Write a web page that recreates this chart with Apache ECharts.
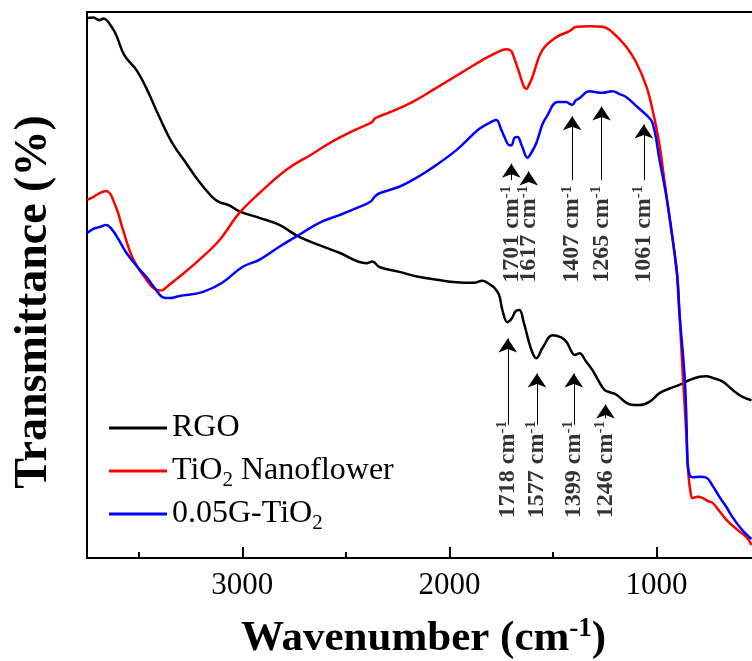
<!DOCTYPE html>
<html>
<head>
<meta charset="utf-8">
<script src="https://cdn.jsdelivr.net/npm/echarts@6/dist/echarts.min.js"></script>
<style>
  html, body { margin: 0; padding: 0; background: #fff; }
  #chart { width: 752px; height: 661px; }
</style>
</head>
<body>
<div id="chart"></div>
<script>
// FTIR spectra, [wavenumber (cm-1), transmittance (a.u.)]
const rgo = [
  [3749, 98.9], [3720, 99.0], [3691, 98.5], [3670, 98.8], [3652, 98.4], [3630, 97.2], [3609, 95.8],
  [3570, 92.1], [3512, 89.4], [3464, 86.1], [3401, 80.8], [3338, 76.0], [3271, 72.3], [3208, 68.9],
  [3145, 66.1], [3111, 65.2], [3063, 64.6], [3014, 63.5], [2918, 62.3], [2821, 61.0], [2725, 58.8],
  [2628, 57.3], [2531, 55.9], [2401, 54.0], [2372, 54.3], [2338, 53.3], [2242, 52.4], [2150, 51.5],
  [2050, 50.9], [1966, 50.5], [1880, 50.4], [1841, 50.8], [1800, 50.0], [1783, 49.5], [1760, 48.2],
  [1744, 45.4], [1720, 43.2], [1700, 43.8], [1680, 45.2], [1662, 45.4], [1640, 43.0], [1604, 38.1],
  [1580, 36.6], [1550, 38.5], [1502, 40.8], [1460, 40.4], [1435, 39.6], [1410, 37.8], [1396, 37.2],
  [1372, 37.5], [1340, 36.0], [1309, 34.4], [1280, 32.5], [1251, 30.8], [1220, 30.3], [1193, 29.9],
  [1145, 28.4], [1110, 28.0], [1082, 28.0], [1034, 28.6], [985, 30.2], [940, 31.0], [889, 31.7],
  [840, 32.6], [792, 33.2], [760, 33.3], [729, 33.0], [680, 32.3], [633, 30.8], [584, 29.5], [541, 28.9]
];
const tio2 = [
  [3749, 65.6], [3720, 66.1], [3691, 66.8], [3657, 67.2], [3640, 66.8], [3628, 66.0], [3600, 63.2],
  [3580, 60.6], [3531, 55.1], [3464, 51.0], [3415, 49.1], [3390, 49.0], [3367, 49.6], [3304, 51.5],
  [3208, 54.6], [3111, 58.2], [3014, 63.2], [2918, 66.8], [2787, 71.1], [2662, 74.0], [2560, 76.4],
  [2460, 78.3], [2390, 79.5], [2372, 79.9], [2360, 80.5], [2338, 80.9], [2290, 81.6], [2179, 83.5],
  [2063, 86.1], [1937, 89.0], [1841, 91.2], [1760, 92.8], [1725, 93.2], [1706, 93.0], [1696, 92.5],
  [1662, 88.8], [1640, 86.3], [1628, 85.9], [1615, 86.7], [1599, 88.1], [1551, 93.0], [1483, 95.4],
  [1420, 96.5], [1386, 97.3], [1324, 97.4], [1261, 97.3], [1213, 96.3], [1145, 93.6], [1097, 90.7],
  [1048, 86.3], [1019, 82.1], [985, 75.6], [962, 69.2], [928, 60.0], [900, 52.0], [889, 44.9],
  [874, 34.4], [855, 22.2], [845, 15.0], [835, 12.0], [826, 11.0], [800, 11.2], [778, 11.0],
  [750, 10.4], [729, 10.1], [700, 8.8], [662, 7.0], [610, 5.2], [565, 3.8], [541, 2.4]
];
const g005 = [
  [3749, 59.5], [3720, 60.3], [3691, 60.6], [3657, 61.0], [3628, 60.1], [3600, 58.5], [3560, 55.9],
  [3500, 53.0], [3464, 51.5], [3420, 49.3], [3386, 47.8], [3350, 47.6], [3304, 48.0], [3193, 48.7],
  [3097, 50.4], [3000, 53.3], [2918, 54.6], [2821, 57.0], [2725, 59.2], [2628, 61.4], [2531, 62.8],
  [2435, 64.3], [2380, 65.3], [2360, 66.2], [2338, 66.8], [2242, 68.0], [2179, 69.2], [2097, 71.1],
  [1966, 74.7], [1855, 78.6], [1790, 80.0], [1773, 80.2], [1750, 78.5], [1734, 77.1], [1710, 75.6],
  [1700, 75.6], [1685, 77.0], [1671, 77.1], [1650, 75.5], [1623, 73.3], [1600, 74.5], [1580, 76.0],
  [1550, 79.5], [1531, 80.8], [1478, 83.5], [1435, 83.5], [1420, 83.2], [1406, 83.0], [1390, 83.8],
  [1372, 84.2], [1324, 85.5], [1290, 85.3], [1261, 85.2], [1213, 85.5], [1180, 85.0], [1145, 84.4],
  [1092, 82.6], [1048, 81.1], [1019, 79.7], [985, 72.9], [947, 65.0], [903, 52.7], [889, 44.9],
  [864, 33.2], [855, 25.0], [850, 17.4], [840, 15.2], [826, 14.8], [790, 14.9], [758, 14.7],
  [730, 13.3], [696, 11.2], [660, 9.2], [633, 7.5], [590, 5.3], [551, 3.8], [541, 3.5]
];

const xMajorTicks = [1000, 2000, 3000];
const xMinorTicks = [1500, 2500, 3500];

// peak marks: [wavenumber, arrow tail, arrow tip]
const blueMarks = [[1701, 69.2, 73.4], [1617, 69.2, 72.0], [1407, 69.2, 82.1], [1265, 69.2, 83.9], [1061, 69.2, 80.6]];
const blackMarks = [[1718, 24.4, 41.4], [1577, 24.4, 35.0], [1399, 24.4, 35.0], [1246, 25.6, 29.3]];
const blueLabelBase = 50.4;
const blackLabelBase = 7.3;

const FONT = '"Liberation Serif", "Times New Roman", serif';

function arrowLines (marks) {
  // end point pulled back a bit so the arrow head tip lands on the read value
  return marks.map(m => [{ coord: [m[0], m[1]] }, { coord: [m[0], m[2] - 1.2] }]);
}

function labelSeries (marks, base) {
  return {
    type: 'scatter',
    silent: true,
    symbolSize: 0,
    data: marks.map(m => [m[0], base, m[0]]),
    label: {
      show: true,
      position: [0, 0],
      rotate: 90,
      align: 'left',
      verticalAlign: 'middle',
      formatter: p => '{n|' + p.data[2] + ' cm}{s|-1}',
      rich: {
        n: { fontFamily: FONT, fontSize: 24, fontWeight: 'bold', color: '#000', lineHeight: 26 },
        s: { fontFamily: FONT, fontSize: 15, fontWeight: 'bold', color: '#000', lineHeight: 14, verticalAlign: 'top' }
      }
    }
  };
}

const markLineBase = {
  silent: true,
  symbol: ['none', 'arrow'],
  symbolSize: 14,
  label: { show: false },
  lineStyle: { color: '#000', width: 1, type: 'solid' },
  emphasis: { disabled: true }
};

const chart = echarts.init(document.getElementById('chart'));
const axisBase = {
  type: 'value',
  min: 500,
  max: 3750,
  inverse: true,
  splitLine: { show: false }
};

chart.setOption({
  animation: false,
  backgroundColor: '#fff',
  grid: { left: 87, right: -8, top: 12, bottom: 103, outerBoundsMode: 'none' },
  legend: {
    orient: 'vertical',
    left: 104,
    top: 403,
    icon: 'rect',
    itemWidth: 58,
    itemHeight: 3,
    itemGap: 3,
    data: ['RGO', 'TiO2 Nanoflower', '0.05G-TiO2'],
    formatter: n => n.replace('TiO2', 'TiO{sub|2}'),
    textStyle: {
      fontFamily: FONT,
      fontSize: 32,
      color: '#000',
      lineHeight: 40,
      rich: {
        sub: { fontFamily: FONT, fontSize: 21, color: '#000', lineHeight: 22, verticalAlign: 'bottom' }
      }
    }
  },
  xAxis: [
    Object.assign({}, axisBase, {
      position: 'bottom',
      axisLine: { onZero: false, lineStyle: { color: '#000', width: 2 } },
      axisTick: { inside: true, length: 11, customValues: xMajorTicks, lineStyle: { color: '#000', width: 2 } },
      axisLabel: { customValues: xMajorTicks, formatter: v => String(v), fontFamily: FONT, fontSize: 31, color: '#000', margin: 12 },
      name: 'Wavenumber (cm{sup|-1})',
      nameLocation: 'middle',
      nameGap: 58,
      nameTextStyle: {
        fontFamily: FONT,
        fontSize: 43,
        fontWeight: 'bold',
        color: '#000',
        lineHeight: 46,
        rich: {
          sup: { fontFamily: FONT, fontSize: 27, fontWeight: 'bold', color: '#000', lineHeight: 26, verticalAlign: 'top' }
        }
      }
    }),
    Object.assign({}, axisBase, {
      position: 'bottom',
      axisLine: { show: false, onZero: false },
      axisTick: { inside: true, length: 6, customValues: xMinorTicks, lineStyle: { color: '#000', width: 2 } },
      axisLabel: { show: false }
    }),
    Object.assign({}, axisBase, {
      position: 'top',
      axisLine: { onZero: false, lineStyle: { color: '#000', width: 2 } },
      axisTick: { show: false },
      axisLabel: { show: false }
    })
  ],
  yAxis: {
    type: 'value',
    min: 0,
    max: 100,
    axisLine: { show: true, onZero: false, lineStyle: { color: '#000', width: 2 } },
    axisTick: { show: false },
    axisLabel: { show: false },
    splitLine: { show: false },
    name: 'Transmittance (%)',
    nameLocation: 'middle',
    nameGap: 30,
    nameTextStyle: { fontFamily: FONT, fontSize: 46, fontWeight: 'bold', color: '#000', padding: [0, 34, 0, 0] }
  },
  series: [
    {
      name: 'RGO',
      type: 'line',
      data: rgo,
      showSymbol: false,
      smooth: 0.4,
      color: '#000',
      lineStyle: { color: '#000', width: 2.5 },
      markLine: Object.assign({}, markLineBase, { data: arrowLines(blackMarks) })
    },
    {
      name: 'TiO2 Nanoflower',
      type: 'line',
      data: tio2,
      showSymbol: false,
      smooth: 0.4,
      color: '#ff0000',
      lineStyle: { color: '#ff0000', width: 2.5 }
    },
    {
      name: '0.05G-TiO2',
      type: 'line',
      data: g005,
      showSymbol: false,
      smooth: 0.4,
      color: '#0000ff',
      lineStyle: { color: '#0000ff', width: 2.5 },
      markLine: Object.assign({}, markLineBase, { data: arrowLines(blueMarks) })
    },
    labelSeries(blueMarks, blueLabelBase),
    labelSeries(blackMarks, blackLabelBase)
  ]
});
</script>
</body>
</html>
